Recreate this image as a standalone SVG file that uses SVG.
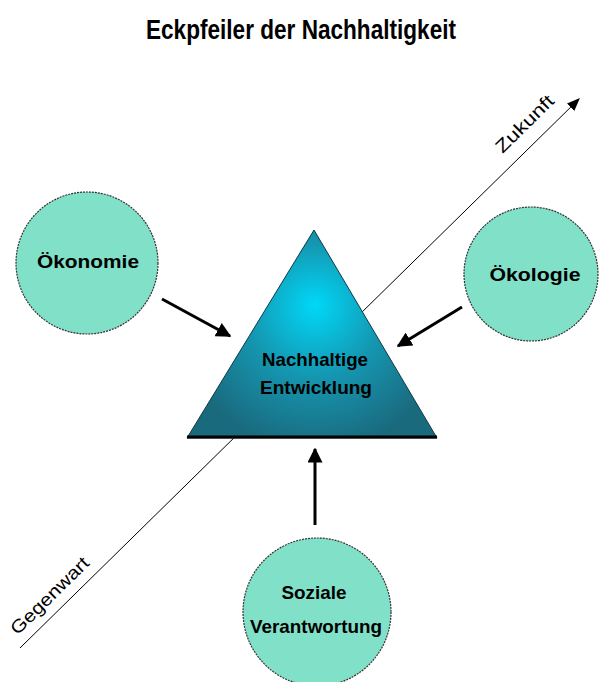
<svg xmlns="http://www.w3.org/2000/svg" width="602" height="682" viewBox="0 0 602 682">
<defs>
<radialGradient id="tri" cx="315" cy="315" r="135" fx="315" fy="305" gradientUnits="userSpaceOnUse">
<stop offset="0" stop-color="#00d8f8"/>
<stop offset="0.5" stop-color="#1596b0"/>
<stop offset="1" stop-color="#1a6a7e"/>
</radialGradient>
<marker id="ah" viewBox="0 0 10 10" refX="9" refY="5" markerWidth="5" markerHeight="5" orient="auto" markerUnits="strokeWidth">
<path d="M0,0 L10,5 L0,10 z" fill="#000"/>
</marker>
<marker id="ahs" viewBox="0 0 10 10" refX="9" refY="5" markerWidth="13" markerHeight="13" orient="auto" markerUnits="strokeWidth">
<path d="M0,1 L10,5 L0,9 z" fill="#000"/>
</marker>
</defs>
<style>
.circ{fill:#80e0c8;stroke:#333;stroke-width:1.2;stroke-dasharray:2 1}
.lbl{font-family:"Liberation Sans",Arial,sans-serif;font-weight:bold;font-size:19px;fill:#000;text-anchor:middle}
.axis{font-family:"Liberation Sans",Arial,sans-serif;font-size:18px;fill:#000;text-anchor:middle}
.arr{stroke:#000;stroke-width:3;fill:none}
.tl{stroke:#000;stroke-width:1;fill:none}
</style>
<rect width="602" height="682" fill="#fff"/>
<text x="301" y="39" font-family="'Liberation Sans',Arial,sans-serif" font-weight="bold" font-size="27" text-anchor="middle" textLength="310" lengthAdjust="spacingAndGlyphs">Eckpfeiler der Nachhaltigkeit</text>

<g id="connectors">
<line class="tl" x1="20" y1="648" x2="579" y2="99" marker-end="url(#ahs)"/>
<text class="axis" transform="translate(529,128) rotate(-44.5)" textLength="74" lengthAdjust="spacingAndGlyphs">Zukunft</text>
<text class="axis" transform="translate(54,600) rotate(-44.5)" textLength="102" lengthAdjust="spacingAndGlyphs">Gegenwart</text>
<line class="arr" x1="162" y1="299" x2="230" y2="336" marker-end="url(#ah)"/>
<line class="arr" x1="462" y1="307" x2="398" y2="346" marker-end="url(#ah)"/>
<line class="arr" x1="315" y1="525" x2="315" y2="449" marker-end="url(#ah)"/>
</g>

<g id="nachhaltige-entwicklung">
<polygon points="314,230 437,438 187,438" fill="url(#tri)" stroke="#0d3a45" stroke-width="1"/>
<line x1="187" y1="437" x2="437" y2="437" stroke="#000" stroke-width="3"/>
<text class="lbl" x="315" y="366" font-size="18" textLength="106" lengthAdjust="spacingAndGlyphs">Nachhaltige</text>
<text class="lbl" x="316" y="394" font-size="18" textLength="112" lengthAdjust="spacingAndGlyphs">Entwicklung</text>
</g>

<g id="oekonomie">
<circle class="circ" cx="87" cy="263" r="71"/>
<text class="lbl" x="88" y="268" textLength="102" lengthAdjust="spacingAndGlyphs">Ökonomie</text>
</g>

<g id="oekologie">
<circle class="circ" cx="531" cy="274" r="67"/>
<text class="lbl" x="535" y="281" textLength="91" lengthAdjust="spacingAndGlyphs">Ökologie</text>
</g>

<g id="soziale-verantwortung">
<circle class="circ" cx="317" cy="612" r="74"/>
<text class="lbl" x="314" y="599" textLength="65" lengthAdjust="spacingAndGlyphs">Soziale</text>
<text class="lbl" x="316" y="633" textLength="132" lengthAdjust="spacingAndGlyphs">Verantwortung</text>
</g>
</svg>
